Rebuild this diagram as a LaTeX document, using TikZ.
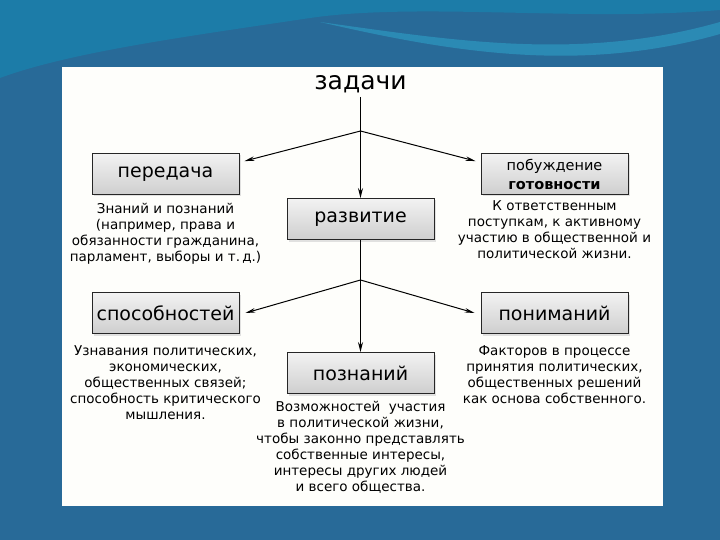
\documentclass[tikz,border=0pt]{standalone}
\usepackage{fontspec}
\setmainfont{DejaVu Sans}
\usetikzlibrary{calc,arrows.meta,shadows}
\definecolor{bgblue}{RGB}{40,106,152}
\definecolor{bgteal}{RGB}{28,124,168}
\definecolor{bgcyan}{RGB}{45,160,200}
\definecolor{panel}{RGB}{254,254,251}

\begin{document}
\begin{tikzpicture}[x=1pt,y=-1pt,
  box/.style={draw=black!85,line width=0.8pt,minimum width=147,minimum height=41,inner sep=2pt,
    top color=gray!10,bottom color=gray!38,drop shadow={shadow xshift=2pt,shadow yshift=-2pt,fill=gray!45},
    font=\fontsize{19}{22}\selectfont},
  note/.style={align=center,inner sep=0pt,anchor=north,font=\fontsize{13.5}{16}\selectfont},
  trunk/.style={line width=1.6pt,-{Stealth[length=10pt,width=5pt]}},
  branch/.style={line width=1pt,-{Stealth[length=10pt,width=4.5pt]}}]
  % background
  \fill[bgblue] (0,0) rectangle (720,540);
  \fill[bgteal] (0,0) -- (720,0) -- (720,10) .. controls (580,22) and (420,2) .. (310,18) .. controls (190,36) and (70,52) .. (0,78) -- cycle;
  \fill[bgcyan,opacity=0.6] (320,22) .. controls (450,40) and (580,62) .. (720,22) -- (720,34) .. controls (580,74) and (450,52) .. (320,22) -- cycle;
  \fill[panel] (62,67) rectangle (663,506);
  % nodes
  \node[anchor=base,font=\fontsize{25}{28}\selectfont] (zadachi) at (360.5,90) {задачи};
  \node[box] (peredacha) at (165.5,174) {передача};
  \node[box,align=center,font=\fontsize{14.5}{19}\selectfont] (pobuzhdenie) at (554.5,174) {побуждение\\\textbf{готовности}};
  \node[box] (razvitie) at (360.5,219) {развитие};
  \node[box] (sposobnostei) at (165.5,313) {способностей};
  \node[box] (ponimanii) at (554.5,313) {пониманий};
  \node[box] (poznanii) at (360.5,373) {познаний};
  \coordinate (fork1) at (360.5,131);
  \coordinate (fork2) at (360.5,280);
  % texts
  \node[note] (tperedacha) at ($(peredacha.south)+(0,8)$) {Знаний и познаний\\(например, права и\\обязанности гражданина,\\парламент, выборы и т.\,д.)};
  \node[note] (tpobuzhdenie) at ($(pobuzhdenie.south)+(0,6)$) {К ответственным\\поступкам, к активному\\участию в общественной и\\политической жизни.};
  \node[note] (tsposobnostei) at ($(sposobnostei.south)+(0,12)$) {Узнавания политических,\\экономических,\\общественных связей;\\способность критического\\мышления.};
  \node[note] (tponimanii) at ($(ponimanii.south)+(0,12)$) {Факторов в процессе\\принятия политических,\\общественных решений\\как основа собственного.};
  \node[note] (tpoznanii) at ($(poznanii.south)+(0,7)$) {Возможностей~ участия\\в политической жизни,\\чтобы законно представлять\\собственные интересы,\\интересы других людей\\и всего общества.};
  % connectors
  \draw[trunk] (zadachi) -- (razvitie);
  \draw[trunk] (razvitie) -- (poznanii);
  \draw[branch] (fork1) -- ([shift={(5,8)}]peredacha.north east);
  \draw[branch] (fork1) -- ([shift={(-5,8)}]pobuzhdenie.north west);
  \draw[branch] (fork2) -- ([xshift=6pt]sposobnostei.east);
  \draw[branch] (fork2) -- ([xshift=-6pt]ponimanii.west);
\end{tikzpicture}
\end{document}
